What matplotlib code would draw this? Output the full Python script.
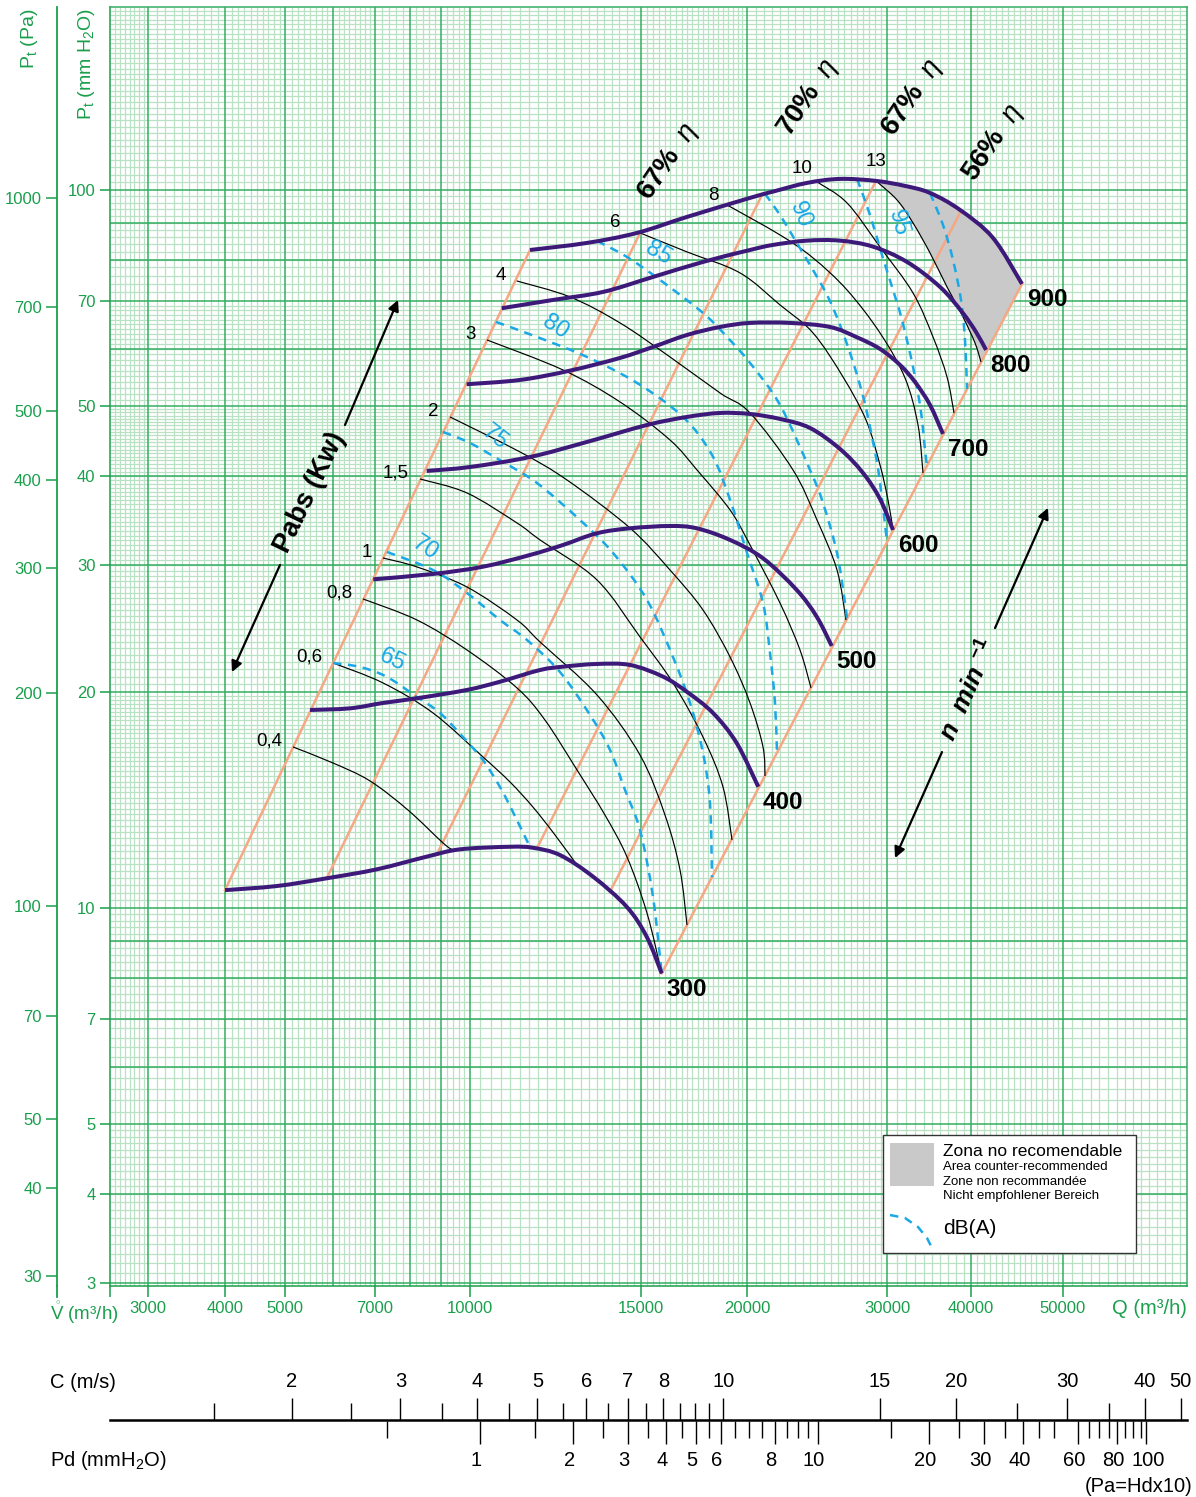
import numpy as np
import matplotlib
matplotlib.use("Agg")
import matplotlib.pyplot as plt
from matplotlib.patches import Rectangle, PathPatch
from matplotlib.lines import Line2D
from matplotlib.path import Path
from matplotlib.ticker import NullLocator
import matplotlib.transforms as mtransforms

# ===================== DATA (Q in m3/h, Pt in mm H2O) =====================
speeds = [300, 400, 500, 600, 700, 800, 900]
n300_q = [4000, 4848, 5858, 7058, 8524, 9643, 10995, 11611, 12379, 13386, 14500, 15234, 15866]
n300_p = [10.59, 10.73, 11.00, 11.32, 11.79, 12.07, 12.17, 12.13, 11.85, 11.06, 10.04, 9.12, 8.11]
n400_q = [5498, 6391, 7227, 8206, 9881, 10737, 11806, 12467, 13504, 14614, 15923, 16981, 18237, 19449, 20665]
n400_p = [18.87, 18.97, 19.30, 19.59, 20.12, 20.66, 21.45, 21.68, 21.87, 21.80, 21.00, 20.01, 18.69, 16.97, 14.75]
n500_q = [6969, 8740, 10320, 11529, 12467, 13504, 14614, 16228, 17448, 19103, 20949, 23096, 24474, 25560]
n500_p = [28.69, 29.19, 29.88, 31.02, 32.03, 33.25, 33.79, 34.04, 33.79, 32.55, 30.69, 27.73, 25.45, 23.17]
n600_q = [8524, 10000, 11529, 13197, 15246, 16995, 18587, 20175, 22006, 24003, 26182, 27986, 29398, 30623]
n600_p = [40.61, 41.13, 42.47, 44.57, 47.06, 48.29, 48.91, 48.75, 47.98, 46.61, 43.58, 40.35, 37.12, 33.61]
n700_q = [9881, 11259, 12676, 14272, 15497, 16995, 18587, 20175, 22652, 25435, 27435, 29398, 31366, 33019, 34760, 36342]
n700_p = [53.63, 54.37, 56.02, 58.35, 60.44, 62.81, 64.44, 65.28, 65.28, 64.44, 62.41, 60.06, 57.05, 54.02, 50.18, 45.73]
n800_q = [10781, 12175, 13708, 15497, 17749, 20175, 21564, 23796, 26182, 28808, 32127, 35971, 38786, 40488, 41482]
n800_p = [68.43, 70.27, 72.10, 75.65, 79.38, 82.48, 83.83, 84.99, 84.99, 83.37, 79.38, 73.27, 67.62, 63.42, 59.86]
n900_q = [11529, 13197, 14859, 16995, 20175, 21564, 23796, 26182, 29059, 31907, 34760, 38521, 42193, 45267]
n900_p = [82.48, 84.37, 87.12, 91.71, 97.47, 99.46, 102.27, 103.59, 102.93, 101.29, 99.04, 93.79, 85.73, 73.97]

# intermediate system (efficiency) lines: low end on 300 rpm curve, high end on 900 rpm curve
sys_low_q = [5858, 8854, 11714, 13937]
sys_low_p = [11.00, 11.87, 12.10, 10.54]
sys_high_q = [14965, 20888, 29059, 38653]
sys_high_p = [87.12, 98.41, 102.93, 93.49]
eff_labels = ['67%', '70%', '67%', '56%']

# absorbed power curves (kW)
pabs_labels = ['0,4', '0,6', '0,8', '1', '1,5', '2', '3', '4', '6', '8', '10', '13']
pabs_04_q = [5154, 6000, 6884, 7940, 9066, 9401]
pabs_04_p = [16.76, 15.92, 15.03, 13.69, 12.32, 12.04]
pabs_06_q = [6000, 7227, 8731, 10313, 10995, 11611, 12233, 12888]
pabs_06_p = [21.94, 20.58, 18.69, 16.23, 14.98, 13.82, 12.64, 11.48]
pabs_08_q = [6707, 8216, 9892, 11179, 11946, 12888, 13773, 14510, 15246, 15866]
pabs_08_p = [26.94, 25.18, 22.87, 20.25, 18.27, 15.57, 13.47, 11.78, 9.84, 8.11]
pabs_1_q = [7227, 8216, 9892, 11179, 11806, 13514, 14965, 16010, 16675, 16995]
pabs_1_p = [30.72, 29.85, 27.99, 25.18, 23.47, 19.80, 16.33, 13.47, 11.30, 9.469]
pabs_15_q = [8310, 9892, 11179, 11806, 13514, 14965, 16361, 17749, 18739, 19202]
pabs_15_p = [39.58, 37.84, 34.37, 32.55, 28.63, 23.85, 20.58, 17.30, 14.74, 12.44]
pabs_2_q = [9299, 11259, 12586, 14614, 16228, 17749, 19103, 20175, 20949, 21070]
pabs_2_p = [48.29, 43.16, 39.45, 33.82, 29.56, 26.00, 22.36, 19.30, 16.76, 15.27]
pabs_3_q = [10411, 12467, 14272, 16228, 17462, 19103, 20175, 22006, 23318, 24073]
pabs_3_p = [61.81, 56.14, 50.67, 44.85, 40.74, 35.83, 32.03, 26.59, 22.87, 20.25]
pabs_4_q = [11171, 12676, 14272, 16228, 18587, 20175, 22850, 24495, 25956, 26641]
pabs_4_p = [74.69, 70.95, 65.28, 58.53, 52.15, 48.91, 40.74, 34.70, 29.56, 25.18]
pabs_6_q = [14965, 16995, 19624, 22006, 24213, 26411, 28230, 29398, 30103, 30623]
pabs_6_p = [87.12, 81.97, 76.63, 69.16, 63.22, 54.90, 47.82, 41.40, 37.00, 33.61]
pabs_8_q = [18943, 22006, 24213, 26718, 29398, 31907, 33360, 33936]
pabs_8_p = [95.30, 86.56, 80.41, 72.56, 63.22, 54.72, 47.06, 40.35]
pabs_10_q = [24495, 26718, 29398, 32794, 35119, 36844, 37738]
pabs_10_p = [102.60, 95.92, 83.29, 71.87, 62.41, 54.90, 48.91]
pabs_13_q = [29059, 31046, 32794, 34760, 36844, 38919, 40390, 40982]
pabs_13_p = [102.93, 96.84, 89.96, 81.71, 73.27, 66.54, 61.22, 57.60]

# noise curves dB(A)
db_labels = ['65', '70', '75', '80', '85', '90', '95']
db_65_q = [6000, 6633, 7337, 8216, 8966, 9749, 10313, 10737, 11047, 11529]
db_65_p = [21.94, 21.66, 20.98, 19.67, 18.69, 17.30, 16.07, 14.74, 13.69, 12.16]
db_70_q = [7337, 8731, 9892, 10737, 11447, 12379, 13292, 13937, 14442, 14965, 15497, 15866]
db_70_p = [31.32, 29.56, 27.46, 25.18, 23.62, 21.31, 18.57, 16.60, 14.60, 12.84, 10.36, 8.11]
db_75_q = [9066, 10000, 10814, 11722, 12980, 14037, 15246, 16361, 17134, 17749, 18089, 18188]
db_75_p = [46.02, 44.42, 41.80, 39.07, 34.70, 31.22, 26.85, 22.36, 19.30, 16.44, 14.00, 11.04]
db_80_q = [10636, 11722, 13197, 14859, 16811, 18188, 19103, 20000, 20949, 21378, 21689, 21815]
db_80_p = [65.49, 62.41, 58.53, 53.85, 48.29, 42.75, 37.00, 31.22, 26.59, 22.65, 19.30, 16.45]
db_85_q = [13514, 14510, 15794, 17749, 18943, 20175, 22006, 24003, 24924, 25956, 26564, 26718]
db_85_p = [84.91, 80.66, 74.93, 67.40, 62.41, 57.42, 50.18, 40.74, 36.65, 31.22, 26.59, 25.26]
db_90_q = [21070, 22006, 22983, 24003, 25215, 26182, 27187, 28067, 28725, 29313, 30000]
db_90_p = [98.73, 92.30, 85.18, 78.62, 71.41, 64.86, 57.60, 50.99, 45.29, 40.09, 32.34]
db_95_q = [27504, 28559, 29569, 30623, 31582, 32794, 33705, 34169, 34405]
db_95_p = [103.59, 92.30, 81.18, 72.56, 65.91, 56.69, 49.07, 43.44, 41.27]
db_100_q = [34760, 36342, 37609, 38653, 39186, 39455]
db_100_p = [99.04, 89.38, 79.89, 70.27, 61.81, 52.82]

# axis ticks
q_ticks = [2600, 3000, 4000, 5000, 7000, 10000, 15000, 20000, 30000, 40000, 50000]
q_ticklabels = ['', '3000', '4000', '5000', '7000', '10000', '15000', '20000', '30000', '40000', '50000']
mm_ticks = [3, 4, 5, 7, 10, 20, 30, 40, 50, 70, 100]
pa_ticks = [30, 40, 50, 70, 100, 200, 300, 400, 500, 700, 1000]
c_major = [2, 3, 4, 5, 6, 7, 8, 10, 15, 20, 30, 40, 50]
c_minor = [1.5, 2.5, 3.5, 4.5, 5.5, 6.5, 7.5, 8.5, 9, 9.5, 25, 35]
pd_major = [1, 2, 3, 4, 5, 6, 8, 10, 20, 30, 40, 60, 80, 100]
pd_minor = [0.5, 1.5, 2.5, 3.5, 4.5, 5.5, 6.5, 7, 7.5, 8.5, 9, 9.5, 15, 25, 35, 45, 50,
            65, 70, 75, 85, 90, 95]

# ===================== STYLE / LAYOUT =====================
plt.rcParams['font.family'] = ['Liberation Sans', 'DejaVu Sans']
plt.rcParams['mathtext.fontset'] = 'custom'
plt.rcParams['mathtext.rm'] = 'Liberation Sans'
plt.rcParams['mathtext.it'] = 'Liberation Sans:italic'
plt.rcParams['mathtext.bf'] = 'Liberation Sans:bold'

GREEN = '#1a9f4c'
GRID_MAJOR = '#34ad62'
GRID_MINOR = '#b9e1c4'
PURPLE = '#3d1a7a'
ORANGE = '#f6a784'
CYAN = '#1aa8e6'
DASH = (3.4, 2.6)

W, H = 1196, 1497
L, R, T, B = 110, 1187, 7.3, 1286

# printed graph-paper calibration of the Q axis (value -> pixel column)
QCAL_V = np.log10([2600, 3000, 4000, 5000, 6000, 7000, 8000, 9000, 10000,
                   15000, 20000, 30000, 40000, 50000, 65000])
QCAL_P = np.array([110, 148, 225, 285, 333, 374.5, 410, 441, 470,
                   641, 747, 887, 971, 1063, 1187], float)
# calibration of the velocity nomogram (C in m/s -> pixel column)
CCAL_V = np.log10([1.016, 2, 10, 15, 20, 30, 40, 50, 52])
CCAL_P = np.array([110, 291.6, 723.2, 879.8, 956.3, 1066.9, 1144.6, 1180.6, 1187], float)
KPD = 0.0612   # Pd (mm H2O) = KPD * C^2


def _pw(x, xs, ys):
    x = np.asarray(x, dtype=float)
    y = np.interp(x, xs, ys)
    s0 = (ys[1] - ys[0]) / (xs[1] - xs[0])
    s1 = (ys[-1] - ys[-2]) / (xs[-1] - xs[-2])
    y = np.where(x < xs[0], ys[0] + (x - xs[0]) * s0, y)
    y = np.where(x > xs[-1], ys[-1] + (x - xs[-1]) * s1, y)
    return y


def q_fwd(q):
    return _pw(np.log10(np.clip(np.asarray(q, float), 1e-6, None)), QCAL_V, QCAL_P)


def q_inv(p):
    return 10 ** _pw(p, QCAL_P, QCAL_V)


def c_fwd(c):
    return _pw(np.log10(np.clip(np.asarray(c, float), 1e-6, None)), CCAL_V, CCAL_P)


def c_inv(p):
    return 10 ** _pw(p, CCAL_P, CCAL_V)


def pd_fwd(pd):
    return c_fwd(np.sqrt(np.clip(np.asarray(pd, float), 1e-9, None) / KPD))


def pd_inv(p):
    return KPD * c_inv(p) ** 2


def mm2pa(m):
    return 9.616 * np.power(np.clip(np.asarray(m, float), 1e-9, None), 1.014)


def pa2mm(pa):
    return np.power(np.clip(np.asarray(pa, float), 1e-9, None) / 9.616, 1 / 1.014)


def fx(px):
    return px / W


def fy(py):
    return 1 - py / H


def smooth_path(q, p):
    """Bezier path through the read points, built in the axes' scale space."""
    x = q_fwd(q)
    y = np.log10(np.asarray(p, float)) * 718.1
    n = len(x)
    verts = [(x[0], y[0])]
    codes = [Path.MOVETO]
    for i in range(n - 1):
        i0 = max(i - 1, 0)
        i3 = min(i + 2, n - 1)
        c1 = (x[i] + (x[i + 1] - x[i0]) / 6.0, y[i] + (y[i + 1] - y[i0]) / 6.0)
        c2 = (x[i + 1] - (x[i3] - x[i]) / 6.0, y[i + 1] - (y[i3] - y[i]) / 6.0)
        verts += [c1, c2, (x[i + 1], y[i + 1])]
        codes += [Path.CURVE4] * 3
    v = np.array(verts)
    back = np.column_stack([q_inv(v[:, 0]), 10 ** (v[:, 1] / 718.1)])
    return Path(back, codes)


def draw_curve(axis, q, p, **kw):
    axis.add_patch(PathPatch(smooth_path(q, p), facecolor='none', **kw))


fig = plt.figure(figsize=(W / 100, H / 100), dpi=100)
ax = fig.add_axes([fx(L), fy(B), (R - L) / W, (B - T) / H])
ax.set_xscale('function', functions=(q_fwd, q_inv))
ax.set_yscale('log')
ax.set_xlim(2600, 65000)
ax.set_ylim(2.976, 179.6)

# ---- graph paper grid ----
def seg(a, b, step):
    return list(np.arange(a + step, b - step / 2, step))

x_major_grid = [3000, 4000, 5000, 6000, 7000, 8000, 9000, 10000, 15000, 20000, 30000, 40000, 50000]
x_minor_grid = (seg(2600, 3000, 50) + seg(3000, 4000, 100) + seg(4000, 5000, 100) +
                seg(5000, 6000, 125) + seg(6000, 7000, 125) + seg(7000, 8000, 200) +
                seg(8000, 9000, 200) + seg(9000, 10000, 200) + seg(10000, 15000, 250) +
                seg(15000, 20000, 250) + seg(20000, 30000, 500) + seg(30000, 40000, 1000) +
                seg(40000, 50000, 625) + seg(50000, 65000, 1000))
y_major_grid = [3, 4, 5, 6, 7, 8, 9, 10, 20, 30, 40, 50, 60, 70, 80, 90, 100]
y_minor_grid = (seg(3, 5, 0.1) + seg(5, 10, 0.2) + seg(10, 20, 0.25) + seg(20, 50, 0.5) +
                seg(50, 70, 1) + seg(70, 100, 2) + seg(100, 180, 2.5))
xt = ax.get_xaxis_transform()
yt = ax.get_yaxis_transform()
ax.vlines(x_minor_grid, 0, 1, transform=xt, color=GRID_MINOR, lw=0.9, zorder=0.3)
ax.hlines(y_minor_grid, 0, 1, transform=yt, color=GRID_MINOR, lw=0.9, zorder=0.3)
ax.vlines(x_major_grid, 0, 1, transform=xt, color=GRID_MAJOR, lw=1.1, zorder=0.4)
ax.hlines(y_major_grid, 0, 1, transform=yt, color=GRID_MAJOR, lw=1.1, zorder=0.4)

for s in ax.spines.values():
    s.set_color(GRID_MAJOR)
    s.set_linewidth(1.1)
ax.spines['left'].set_color(GREEN)
ax.spines['bottom'].set_color(GREEN)

ax.set_xticks(q_ticks, labels=q_ticklabels)
ax.xaxis.set_minor_locator(NullLocator())
ax.set_yticks(mm_ticks, labels=[str(v) for v in mm_ticks])
ax.yaxis.set_minor_locator(NullLocator())
ax.tick_params(axis='x', which='major', direction='out', length=8, width=1.1, color=GREEN,
               labelcolor=GREEN, labelsize=12, pad=2.5)
ax.tick_params(axis='y', which='major', direction='out', length=7, width=1.1, color=GREEN,
               labelcolor=GREEN, labelsize=12, pad=3.5)

sec = ax.secondary_yaxis((57 - L) / (R - L), functions=(mm2pa, pa2mm))
sec.set_yticks(pa_ticks, labels=[str(v) for v in pa_ticks])
sec.yaxis.set_minor_locator(NullLocator())
sec.tick_params(axis='y', which='major', direction='out', length=8, width=1.1, color=GREEN,
                labelcolor=GREEN, labelsize=12, pad=3)
sec.spines['left'].set_color(GREEN)
sec.spines['left'].set_linewidth(1.3)
fig.add_artist(Line2D([fx(57), fx(57)], [fy(B), fy(1297)], transform=fig.transFigure,
                      color=GREEN, lw=1.3))

# ---- not recommended zone ----
i13 = n900_q.index(pabs_13_q[0])
zone_q = pabs_13_q + n900_q[i13:][::-1]
zone_p = pabs_13_p + n900_p[i13:][::-1]
ax.fill(zone_q, zone_p, color='#c9c9c9', lw=0, zorder=1)

# ---- system / efficiency lines ----
ax.plot([n300_q[0], n900_q[0]], [n300_p[0], n900_p[0]], color=ORANGE, lw=1.8, zorder=2)
for ql, pl, qh, ph in zip(sys_low_q, sys_low_p, sys_high_q, sys_high_p):
    ax.plot([ql, qh], [pl, ph], color=ORANGE, lw=1.8, zorder=2)
ax.plot([n300_q[-1], n900_q[-1]], [n300_p[-1], n900_p[-1]], color=ORANGE, lw=1.8, zorder=2)

# ---- power curves ----
pabs_curves = [(pabs_04_q, pabs_04_p), (pabs_06_q, pabs_06_p), (pabs_08_q, pabs_08_p),
               (pabs_1_q, pabs_1_p), (pabs_15_q, pabs_15_p), (pabs_2_q, pabs_2_p),
               (pabs_3_q, pabs_3_p), (pabs_4_q, pabs_4_p), (pabs_6_q, pabs_6_p),
               (pabs_8_q, pabs_8_p), (pabs_10_q, pabs_10_p), (pabs_13_q, pabs_13_p)]
pabs_offsets = [(-11, 1, 'right')] * 8 + [(-20, 6, 'right'), (-8, 5, 'right'),
                                          (-5, 9, 'right'), (0, 15, 'center')]
for (q, p), lab, (dx, dy, ha) in zip(pabs_curves, pabs_labels, pabs_offsets):
    draw_curve(ax, q, p, edgecolor='black', lw=0.85, zorder=3)
    ax.annotate(lab, xy=(q[0], p[0]), xytext=(dx, dy), textcoords='offset pixels',
                ha=ha, va='baseline', fontsize=13.5, zorder=7)

# ---- noise curves ----
db_curves = [(db_65_q, db_65_p), (db_70_q, db_70_p), (db_75_q, db_75_p), (db_80_q, db_80_p),
             (db_85_q, db_85_p), (db_90_q, db_90_p), (db_95_q, db_95_p), (db_100_q, db_100_p)]
for q, p in db_curves:
    draw_curve(ax, q, p, edgecolor=CYAN, lw=1.8, linestyle=(0, DASH), zorder=4)
db_label_q = [7476, 8469, 10611, 12233, 15708, 23318, 31152]
db_label_p = [22.15, 31.72, 45.29, 64.44, 81.71, 92.30, 89.96]
db_label_rot = [-25, -33, -38, -33, -30, -68, -75]
for lab, q, p, r in zip(db_labels, db_label_q, db_label_p, db_label_rot):
    ax.text(q, p, lab, color=CYAN, fontsize=17, rotation=r, ha='center', va='center', zorder=7)

# ---- fan speed curves ----
speed_curves = [(n300_q, n300_p), (n400_q, n400_p), (n500_q, n500_p), (n600_q, n600_p),
                (n700_q, n700_p), (n800_q, n800_p), (n900_q, n900_p)]
for (q, p), n in zip(speed_curves, speeds):
    draw_curve(ax, q, p, edgecolor=PURPLE, lw=2.9, capstyle='butt', zorder=6)
    ax.annotate(str(n), xy=(q[-1], p[-1]), xytext=(25, -16), textcoords='offset pixels',
                ha='center', va='center', fontsize=17.5, fontweight='bold', zorder=7)

# ---- efficiency labels ----
eff_q = [16140, 23865, 32682, 42193]
eff_p = [109.4, 134.3, 134.3, 116.3]
for lab, q, p in zip(eff_labels, eff_q, eff_p):
    ax.text(q, p, lab + r'  $\eta$', rotation=56, ha='center', va='center', fontsize=20,
            fontweight='bold', zorder=7)

# ---- Pabs and n arrows ----
arrow_kw = dict(arrowstyle='-|>', color='black', lw=1.6, mutation_scale=16, shrinkA=0, shrinkB=0)
ax.annotate('', xy=(7647, 70.27), xytext=(6273, 47.06), arrowprops=arrow_kw, zorder=7)
ax.annotate('', xy=(4105, 21.31), xytext=(4908, 30.04), arrowprops=arrow_kw, zorder=7)
ax.text(5498, 37.96, 'Pabs (Kw)', rotation=64, ha='center', va='center', fontsize=19.5,
        fontweight='bold', zorder=7)
ax.annotate('', xy=(48214, 36.07), xytext=(42398, 24.54), arrowprops=arrow_kw, zorder=7)
ax.annotate('', xy=(30834, 11.74), xytext=(36218, 16.49), arrowprops=arrow_kw, zorder=7)
ax.text(39658, 20.12, r'n  min $^{\mathbf{-1}}$', rotation=66, ha='center', va='center',
        fontsize=19, fontweight='bold', fontstyle='italic', zorder=7)

# ---- axis titles ----
fig.text(fx(30), fy(8), r'P$_{\mathrm{t}}$ (Pa)', rotation=90, ha='center', va='top',
         fontsize=14, color=GREEN)
fig.text(fx(87), fy(8), r'P$_{\mathrm{t}}$ (mm H$_{\mathrm{2}}$O)', rotation=90, ha='center',
         va='top', fontsize=14, color=GREEN)
fig.text(fx(50), fy(1313), r'$\mathring{\mathrm{V}}$ (m³/h)', ha='left', va='center',
         fontsize=13.5, color=GREEN)
fig.text(fx(1187), fy(1308), 'Q (m³/h)', ha='right', va='center', fontsize=14.5, color=GREEN)

# ---- velocity / dynamic pressure nomogram ----
YL = 1421
rect2 = [fx(L), fy(YL), (R - L) / W, 0.8 / H]
ax2 = fig.add_axes(rect2)
ax2.set_xscale('function', functions=(c_fwd, c_inv))
ax2.set_xlim(1.016, 52)
ax2.set_yticks([])
ax2.patch.set_visible(False)
for s in ['left', 'right', 'bottom']:
    ax2.spines[s].set_visible(False)
ax2.spines['top'].set_linewidth(1.8)
ax2.spines['top'].set_color('black')
ax2.xaxis.set_ticks_position('top')
ax2.set_xticks(c_major, labels=[str(v) for v in c_major])
ax2.set_xticks(c_minor, minor=True)
ax2.tick_params(axis='x', which='major', direction='out', length=16, width=1.0,
                labelsize=14.5, pad=5)
ax2.tick_params(axis='x', which='minor', direction='out', length=12, width=1.0)

ax3 = fig.add_axes(rect2)
ax3.set_xscale('function', functions=(pd_fwd, pd_inv))
ax3.set_xlim(KPD * 1.016 ** 2, KPD * 52 ** 2)
ax3.set_yticks([])
ax3.patch.set_visible(False)
for s in ax3.spines.values():
    s.set_visible(False)
ax3.set_xticks(pd_major, labels=[str(v) for v in pd_major])
ax3.set_xticks(pd_minor, minor=True)
ax3.tick_params(axis='x', which='major', direction='out', length=16.5, width=1.0,
                labelsize=14.5, pad=5)
ax3.tick_params(axis='x', which='minor', direction='out', length=12.5, width=1.0)
for lbl in ax3.get_xticklabels():
    dxp = 2 if lbl.get_text() == '100' else -4
    lbl.set_transform(lbl.get_transform() +
                      mtransforms.ScaledTranslation(dxp / 100, 0, fig.dpi_scale_trans))

fig.text(fx(50), fy(1383), 'C (m/s)', ha='left', va='center', fontsize=14.5)
fig.text(fx(50), fy(1460), r'Pd (mmH$_{\mathrm{2}}$O)', ha='left', va='center', fontsize=14.5)
fig.text(fx(1192), fy(1486), '(Pa=Hdx10)', ha='right', va='center', fontsize=14.5)

# ---- legend ----
fig.add_artist(Rectangle((fx(883), fy(1253)), 253 / W, 118 / H, transform=fig.transFigure,
                         facecolor='white', edgecolor='#333333', lw=1.0, zorder=5))
fig.add_artist(Rectangle((fx(890), fy(1186)), 44 / W, 43 / H, transform=fig.transFigure,
                         facecolor='#c9c9c9', edgecolor='none', zorder=6))
fig.text(fx(943), fy(1151), 'Zona no recomendable', ha='left', va='center', fontsize=12.5, zorder=7)
for txt, yy in zip(['Area counter-recommended', 'Zone non recommandée', 'Nicht empfohlener Bereich'],
                   [1167, 1182, 1196]):
    fig.text(fx(943), fy(yy), txt, ha='left', va='center', fontsize=9.5, zorder=7)
leg_px = [890, 905, 918, 927, 933]
leg_py = [1215, 1218, 1227, 1238, 1250]
fig.add_artist(Line2D([fx(v) for v in leg_px], [fy(v) for v in leg_py], transform=fig.transFigure,
                      color=CYAN, lw=1.8, dashes=DASH, zorder=7))
fig.text(fx(943), fy(1228), 'dB(A)', ha='left', va='center', fontsize=15, zorder=7)

fig.savefig('out.png', dpi=100)
